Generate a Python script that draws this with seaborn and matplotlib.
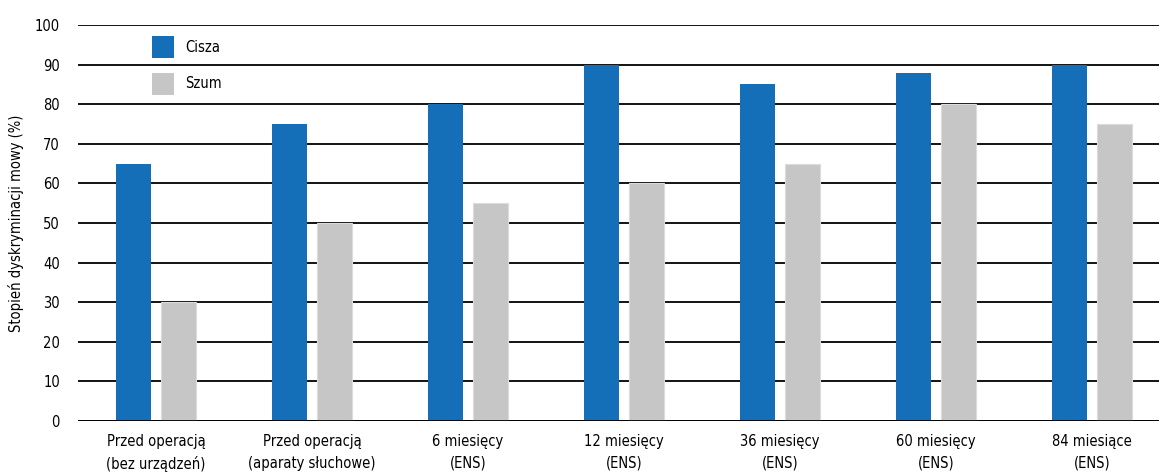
import os
import matplotlib
matplotlib.use("Agg")
import matplotlib.pyplot as plt
from matplotlib import font_manager as fm
import seaborn as sns
import pandas as pd

categories = [
    "Przed operacją\n(bez urządzeń)",
    "Przed operacją\n(aparaty słuchowe)",
    "6 miesięcy\n(ENS)",
    "12 miesięcy\n(ENS)",
    "36 miesięcy\n(ENS)",
    "60 miesięcy\n(ENS)",
    "84 miesiące\n(ENS)",
]
cisza = [65, 75, 80, 90, 85, 88, 90]
szum = [30, 50, 55, 60, 65, 80, 75]
series_names = ["Cisza", "Szum"]
colors = ["#156FB8", "#C6C6C6"]
y_ticks = list(range(0, 101, 10))


def narrow_font():
    """Return (family, stretch) of the first installed condensed sans face."""
    prefs = [
        "notosans-condensed.",
        "opensans_condensed-regular",
        "opensans-condensed-regular",
        "liberationsansnarrow-regular",
        "dejavusanscondensed.",
    ]
    entries = fm.fontManager.ttflist
    for key in prefs:
        for f in entries:
            if os.path.basename(f.fname).lower().startswith(key):
                return f.name, f.stretch
    return "DejaVu Sans", "normal"


family, stretch = narrow_font()

df = pd.DataFrame({
    "kategoria": categories * 2,
    "seria": [series_names[0]] * len(categories) + [series_names[1]] * len(categories),
    "wartosc": cisza + szum,
})

sns.set_theme(style="white")
plt.rcParams["font.family"] = [family, "DejaVu Sans"]
plt.rcParams["font.stretch"] = stretch
plt.rcParams["text.color"] = "black"
plt.rcParams["xtick.color"] = "black"
plt.rcParams["ytick.color"] = "black"
plt.rcParams["axes.labelcolor"] = "black"

fig = plt.figure(figsize=(11.59, 4.75), dpi=100)
ax = fig.add_axes([78 / 1159, 54 / 475, (1159 - 78) / 1159, 396 / 475])

sns.barplot(
    data=df, x="kategoria", y="wartosc", hue="seria",
    hue_order=series_names, palette=colors, order=categories,
    width=0.577, gap=0.222, saturation=1, ax=ax, zorder=3,
    edgecolor="none", linewidth=0,
)
# soft light rim around the grey bars
for bar in ax.containers[1]:
    bar.set_edgecolor("#DCDCDC")
    bar.set_linewidth(0.8)

ax.set_ylim(0, 100)
ax.set_xlim(-0.5, 6.43)
ax.set_yticks(y_ticks)
ax.yaxis.grid(True, color="black", linewidth=1.3, zorder=0)
ax.set_axisbelow(True)
for s in ["left", "right", "top", "bottom"]:
    ax.spines[s].set_visible(False)
ax.axhline(0, color="black", linewidth=1.3, zorder=4)

ax.tick_params(axis="y", length=0, pad=13, labelsize=10.5, labelcolor="black")
ax.tick_params(axis="x", length=0, pad=9.5, labelsize=10.5, labelcolor="black")
for t in ax.get_xticklabels():
    t.set_linespacing(1.55)

ax.set_xlabel("")
ax.set_ylabel("Stopień dyskryminacji mowy (%)", fontsize=10.5, labelpad=8, color="black")

leg = ax.legend(
    loc="upper left", bbox_to_anchor=(74 / 1081, 1 - 11 / 396),
    frameon=False, fontsize=10.5, handlelength=1.5, handleheight=1.95,
    labelspacing=1.0, borderpad=0, borderaxespad=0, handletextpad=0.8,
)
for t in leg.get_texts():
    t.set_color("black")

fig.savefig("out.png", dpi=100)
